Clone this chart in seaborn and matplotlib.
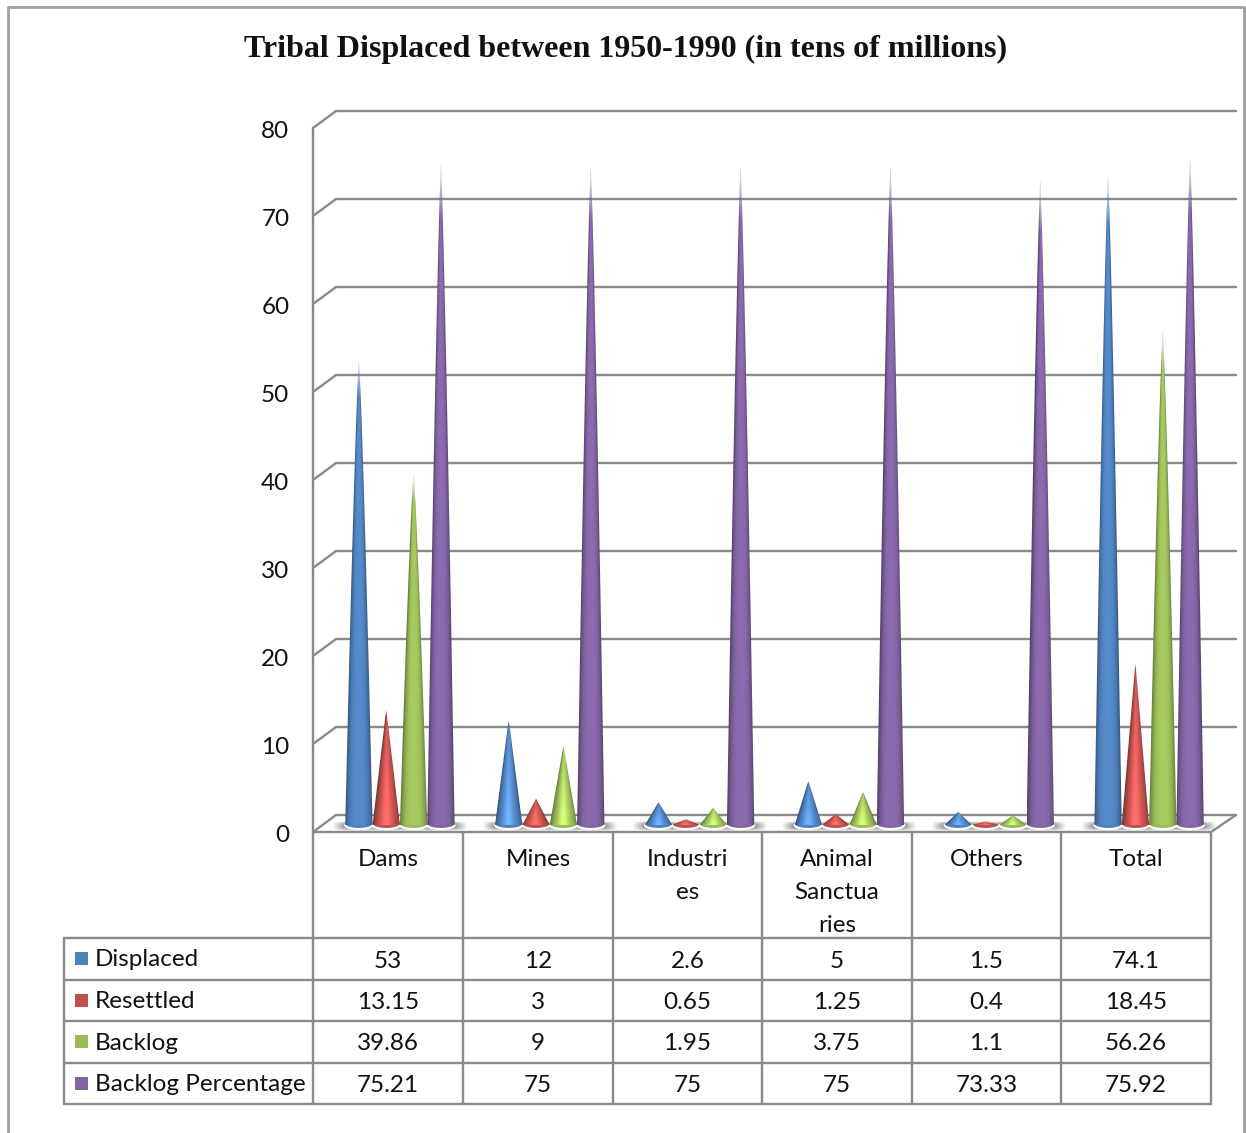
import numpy as np
import pandas as pd
import seaborn as sns
import matplotlib
matplotlib.use('Agg')
import matplotlib.pyplot as plt
from matplotlib.path import Path
from matplotlib.patches import PathPatch, Rectangle
from matplotlib.transforms import ScaledTranslation

categories = ['Dams', 'Mines', 'Industries', 'Animal Sanctuaries', 'Others', 'Total']
header_lines = [['Dams'], ['Mines'], ['Industri', 'es'], ['Animal', 'Sanctua', 'ries'], ['Others'], ['Total']]
displaced = [53, 12, 2.6, 5, 1.5, 74.1]
resettled = [13.15, 3, 0.65, 1.25, 0.4, 18.45]
backlog = [39.86, 9, 1.95, 3.75, 1.1, 56.26]
backlog_pct = [75.21, 75, 75, 75, 73.33, 75.92]
series_names = ['Displaced', 'Resettled', 'Backlog', 'Backlog Percentage']
series_values = [displaced, resettled, backlog, backlog_pct]
series_colors = ['#4F81BD', '#C0504D', '#9BBB59', '#8064A2']
yticks = list(range(0, 90, 10))

W, H = 1246, 1133
GREY = '#8a8a8a'
TEXT_SIZE = 17.5

sns.set_style('white')
plt.rcParams['font.family'] = ['Lato', 'DejaVu Sans']


def box(x0, y_top, x1, y_bottom):
    # pixel box -> figure fraction
    return [x0 / W, 1 - y_bottom / H, (x1 - x0) / W, (y_bottom - y_top) / H]


fig = plt.figure(figsize=(W / 100, H / 100), dpi=100)

# pixel overlay for frame and table
bg = fig.add_axes([0, 0, 1, 1], zorder=0)
bg.set_xlim(0, W)
bg.set_ylim(H, 0)
bg.axis('off')

# back wall with its gridlines
wall = fig.add_axes(box(336, 111, 1236, 815), zorder=1)
wall.patch.set_visible(False)
wall.set_xlim(0, 1)
wall.set_ylim(0, 80)
wall.set_yticks(yticks)
wall.set_xticks([])
wall.tick_params(left=False, labelleft=False)
wall.grid(axis='y', color=GREY, lw=1.7)
for line in wall.get_ygridlines():
    line.set_clip_on(False)
for s in wall.spines.values():
    s.set_visible(False)

# front axis that carries the tick labels
front = fig.add_axes(box(313, 128, 1211, 832), zorder=1)
front.patch.set_visible(False)
front.set_xlim(0, 1)
front.set_ylim(0, 80)
front.set_yticks(yticks)
front.set_xticks([])
front.tick_params(axis='y', length=0, pad=17, labelsize=TEXT_SIZE, labelcolor='#111111')
for label in front.get_yticklabels():
    label.set_transform(label.get_transform() + ScaledTranslation(0, -2 / 100, fig.dpi_scale_trans))
for name, s in front.spines.items():
    s.set_visible(name == 'left')
front.spines['left'].set_color(GREY)
front.spines['left'].set_linewidth(1.7)

# connectors between the front axis and the wall
for t in yticks:
    bg.plot([313, 336], [832 - 8.8 * t, 815 - 8.8 * t], color=GREY, lw=1.7)
bg.plot([313, 1211, 1236], [832, 832, 815], color=GREY, lw=1.7)

# cones: seaborn positions the bars, then each bar becomes a shaded cone
long_df = pd.DataFrame({
    'category': np.tile(categories, len(series_names)),
    'series': np.repeat(series_names, len(categories)),
    'value': np.concatenate(series_values),
})

ax = fig.add_axes(box(325, 121, 1224, 825), zorder=2)
ax.patch.set_visible(False)
sns.barplot(data=long_df, x='category', y='value', hue='series', order=categories,
            hue_order=series_names, palette=series_colors, width=0.73, gap=0,
            legend=False, ax=ax)
xlim = ax.get_xlim()
ax.set_ylim(0, 80)
ax.axis('off')

# soft shadow on the floor, darkest next to the cones
u = np.linspace(0, 1, 300)
v = np.linspace(-1, 1, 24)
streak = np.zeros((24, 300, 4))
streak[..., :3] = 0.55
edge = np.clip((0.5 - np.abs(u - 0.5) - 0.05) / 0.085, 0, 1)
streak[..., 3] = (1 - v[:, None] ** 2) * edge[None, :]
for i in range(len(categories)):
    ax.imshow(streak, extent=(i - 0.5, i + 0.5, -0.65, 0.45), aspect='auto',
              interpolation='bilinear', zorder=1, clip_on=False)

bars = [p for p in ax.patches if isinstance(p, Rectangle)]
n_cat = len(categories)
arc = np.linspace(0, np.pi, 24)
for k, bar in enumerate(bars):
    x, w, h = bar.get_x(), bar.get_width(), bar.get_height()
    bar.set_visible(False)
    rgb = np.array(matplotlib.colors.to_rgb(series_colors[k // n_cat]))
    cx = x + w / 2
    power = 0.8 if h > 20 else 1.0

    # outline of the cone, tall ones bulge slightly
    rel = np.linspace(0, 1, 80)
    half = w / 2 * (1 - rel) ** power
    xs = np.concatenate([cx - half, (cx + half)[::-1], cx + w / 2 * np.cos(arc)])
    ys = np.concatenate([h * rel, (h * rel)[::-1], -0.38 * np.sin(arc)])
    cone = PathPatch(Path(np.column_stack([xs, ys])), fc='none', ec='none', transform=ax.transData)
    ax.add_patch(cone)

    # shading follows the narrowing of the cone
    rows = np.linspace(1, 0, 320)
    cols = np.linspace(-1, 1, 48)
    prof = np.maximum((1 - rows) ** power, 1e-3)
    uu = np.clip(cols[None, :] / prof[:, None], -1, 1)
    shade = 1.08 - 0.42 * np.abs(uu) ** 3
    if h < 20:
        # short cones have a bright centre towards the base
        shade = shade + (1 - rows[:, None]) * 0.35 * np.exp(-((uu + 0.05) / 0.35) ** 2)
    img = np.zeros((320, 48, 4))
    img[..., :3] = np.clip(rgb[None, None, :] * shade[..., None], 0, 1)
    fade = np.clip((1 - rows) / (0.08 if h > 20 else 0.04), 0.3, 1)
    img[..., 3] = fade[:, None]
    im = ax.imshow(img, extent=(x, x + w, 0, h), aspect='auto', interpolation='bilinear', zorder=3)
    ax.fill(cx + w / 2 * np.cos(arc), -0.38 * np.sin(arc), color=rgb, lw=0, zorder=2, clip_on=False)
    ax.plot(cx + w / 2 * np.cos(arc), -0.46 * np.sin(arc), color='white', lw=1.6, zorder=2.5, clip_on=False)
    im.set_clip_path(cone)

ax.set_xlim(xlim)
ax.set_ylim(0, 80)

# outer frame, open at the bottom
bg.plot([8, 8, 1244, 1244], [H, 7, 7, H], color='#a0a0a0', lw=2)

bg.text(626, 49, 'Tribal Displaced between 1950-1990 (in tens of millions)', ha='center', va='center',
        fontsize=23, fontweight='bold', family='Liberation Serif', color='#111111')

# data table below the plot
col_x = [313, 463, 613, 762, 912, 1061, 1211]
row_y = [938, 980, 1021, 1063, 1104]
for x in col_x:
    bg.plot([x, x], [832, row_y[-1]], color=GREY, lw=1.7)
bg.plot([64, 64], [row_y[0], row_y[-1]], color=GREY, lw=1.7)
for y in row_y:
    bg.plot([64, col_x[-1]], [y, y], color=GREY, lw=1.7)

for c, lines in enumerate(header_lines):
    mid = (col_x[c] + col_x[c + 1]) / 2
    for j, line in enumerate(lines):
        bg.text(mid, 860 + 32.5 * j, line, ha='center', va='center', fontsize=TEXT_SIZE, color='#111111')

for r, name in enumerate(series_names):
    mid_y = (row_y[r] + row_y[r + 1]) / 2
    bg.add_patch(Rectangle((75, mid_y - 7), 13, 13, fc=series_colors[r], ec='none'))
    bg.text(95, mid_y + 1, name, ha='left', va='center', fontsize=TEXT_SIZE, color='#111111')
    for c, v_ in enumerate(series_values[r]):
        mid = (col_x[c] + col_x[c + 1]) / 2
        bg.text(mid, mid_y + 2, f'{v_:g}', ha='center', va='center', fontsize=TEXT_SIZE, color='#111111')

fig.savefig('out.png', dpi=100, facecolor='white')
